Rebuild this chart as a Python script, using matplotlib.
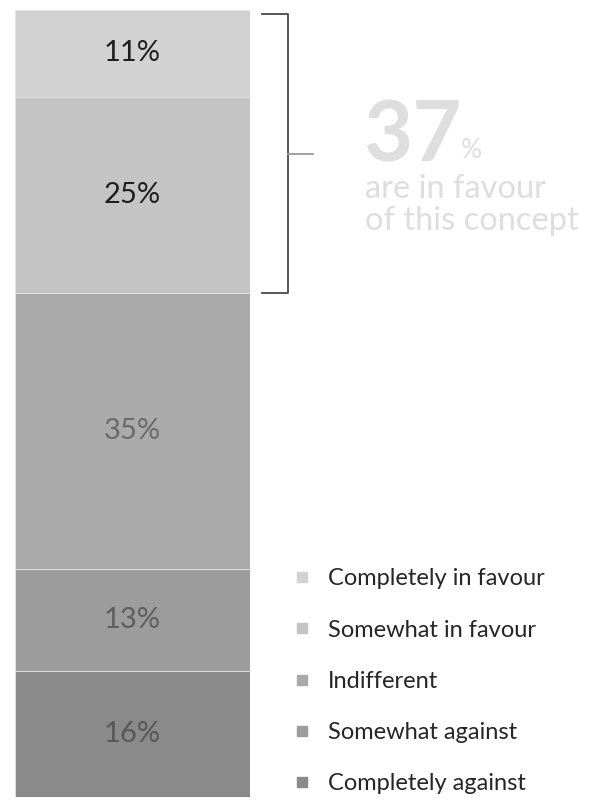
import matplotlib.pyplot as plt
from matplotlib.lines import Line2D

# answers, top of the bar first
categories = ['Completely in favour', 'Somewhat in favour', 'Indifferent',
              'Somewhat against', 'Completely against']
shares = [11, 25, 35, 13, 16]
bar_colors = ['#d2d2d2', '#c4c4c4', '#aaaaaa', '#9c9c9c', '#8a8a8a']
label_colors = ['#1e1e1e', '#1e1e1e', '#6a6a6a', '#5e5e5e', '#585858']
favour_total = 37          # as printed on the chart (rounded)
n_favour = 2               # segments covered by the bracket

plt.rcParams['font.family'] = ['Lato', 'DejaVu Sans']

fig = plt.figure(figsize=(5.98, 8), dpi=100)
ax = fig.add_axes([15 / 598, 3 / 800, 235 / 598, 787 / 800])

# stack from the top down
top = sum(shares)
for cat, val, col, tcol in zip(categories, shares, bar_colors, label_colors):
    bottom = top - val
    ax.bar(0, val, bottom=bottom, width=1, color=col, edgecolor='#e6e6e6', linewidth=0.6)
    ax.text(0, bottom + val / 2, f'{val}%', ha='center', va='center',
            fontsize=21, color=tcol)
    top = bottom

ax.set_xlim(-0.5, 0.5)
ax.set_ylim(0, sum(shares))
ax.axis('off')

# bracket around the "in favour" segments
tr = ax.get_yaxis_transform()
y_hi = sum(shares) - 0.5
y_lo = sum(shares) - sum(shares[:n_favour])
y_mid = (y_hi + y_lo) / 2
bx, sx, px = 1.162, 1.05, 1.27
ax.plot([sx, bx, bx, sx], [y_hi, y_hi, y_lo, y_lo], color='#4a4a4a', lw=1.3,
        transform=tr, clip_on=False)
ax.plot([bx, px], [y_mid, y_mid], color='#9a9a9a', lw=1.3, transform=tr, clip_on=False)

light = '#dedede'
fig.text(363 / 598, 1 - 162 / 800, f'{favour_total}', fontsize=61, fontweight='bold',
         color=light, ha='left', va='baseline')
fig.text(461 / 598, 1 - 158 / 800, '%', fontsize=19, color=light,
         ha='left', va='baseline')
fig.text(365 / 598, 1 - 198 / 800, 'are in favour', fontsize=23.5,
         color=light, ha='left', va='baseline')
fig.text(365 / 598, 1 - 230 / 800, 'of this concept', fontsize=23.5,
         color=light, ha='left', va='baseline')

handles = [Line2D([], [], marker='s', ls='', markersize=7.5, color=c) for c in bar_colors]
fig.legend(handles, categories, loc='upper left', bbox_to_anchor=(283 / 598, 1 - 559 / 800),
           frameon=False, fontsize=17, labelcolor='#262626', handlelength=0.8,
           handletextpad=0.7, labelspacing=1.28, borderaxespad=0)

fig.savefig('out.png', dpi=100, facecolor='white')
